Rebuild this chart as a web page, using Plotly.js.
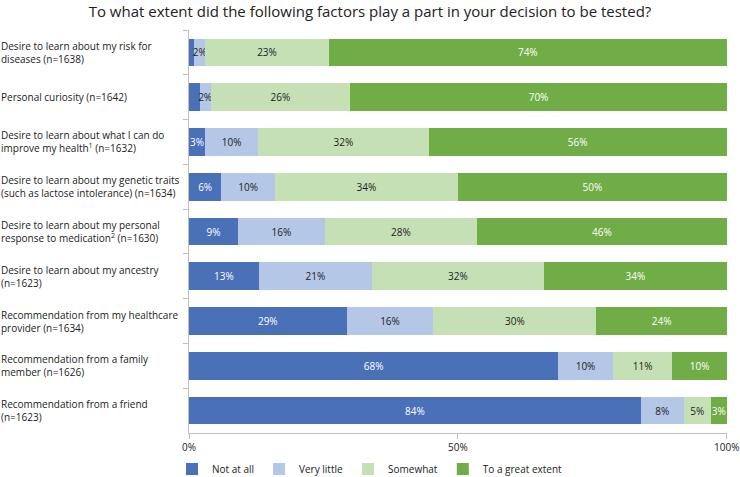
<!DOCTYPE html>
<html>
<head>
<meta charset="utf-8">
<script src="https://cdn.plot.ly/plotly-3.0.1.min.js"></script>
<style>html,body{margin:0;padding:0;background:#fff;}#chart{width:740px;height:477px;}</style>
</head>
<body>
<div id="chart"></div>
<script>
const categories = [
  "Desire to learn about my risk for<br>diseases (n=1638)",
  "Personal curiosity (n=1642)",
  "Desire to learn about what I can do<br>improve my health<sup>1</sup> (n=1632)",
  "Desire to learn about my genetic traits<br>(such as lactose intolerance) (n=1634)",
  "Desire to learn about my personal<br>response to medication<sup>2</sup> (n=1630)",
  "Desire to learn about my ancestry<br>(n=1623)",
  "Recommendation from my healthcare<br>provider (n=1634)",
  "Recommendation from a family<br>member (n=1626)",
  "Recommendation from a friend<br>(n=1623)"
];
const notAtAll   = [1, 2, 3, 6, 9, 13, 29, 68, 84];
const veryLittle = [2, 2, 10, 10, 16, 21, 16, 10, 8];
const somewhat   = [23, 26, 32, 34, 28, 32, 30, 11, 5];
const greatExtent= [74, 70, 56, 50, 46, 34, 24, 10, 3];
const showNotAtAllLabel = [false, false, true, true, true, true, true, true, true];
const seriesNames = ["Not at all", "Very little", "Somewhat", "To a great extent"];
const colors = ["#4a70b8", "#b4c7e7", "#c5e0b4", "#70ad47"];
const textColors = ["#ffffff", "#222222", "#222222", "#ffffff"];

const ids = categories.map((c, i) => "c" + i);
const seriesVals = [notAtAll, veryLittle, somewhat, greatExtent];
const traces = seriesVals.map((vals, s) => ({
  type: "bar",
  orientation: "h",
  name: seriesNames[s],
  y: ids,
  x: vals,
  text: vals.map((v, i) => (s === 0 && !showNotAtAllLabel[i]) ? " " : v + "%"),
  textposition: "inside",
  insidetextanchor: "middle",
  constraintext: "none",
  textfont: {family: "Open Sans, sans-serif", size: 10, color: textColors[s]},
  marker: {color: colors[s], line: {width: 0}},
  hoverinfo: "skip",
  cliponaxis: false
}));

const annotations = categories.map((c, i) => ({
  xref: "paper", yref: "y", x: -0.353, y: ids[i],
  xanchor: "left", yanchor: "middle", align: "left",
  text: c, showarrow: false,
  font: {family: "Open Sans, sans-serif", size: 10, color: "#222"}
}));

const layout = {
  width: 740, height: 477,
  margin: {l: 189, r: 13, t: 30, b: 44},
  paper_bgcolor: "#fff", plot_bgcolor: "#fff",
  barmode: "stack", barnorm: "percent", bargap: 0.38,
  title: {text: "To what extent did the following factors play a part in your decision to be tested?",
          x: 0.5, xref: "container", y: 0.975, yref: "container", yanchor: "middle",
          font: {family: "Open Sans, sans-serif", size: 15, color: "#222"}},
  xaxis: {range: [0, 100.05], tickvals: [0, 50, 100], ticktext: ["0%", "50%", "100%"],
          showgrid: false, zeroline: false, showline: true, linecolor: "#bfbfbf", linewidth: 1,
          ticks: "outside", tickcolor: "#bfbfbf", ticklen: 5,
          tickfont: {family: "Open Sans, sans-serif", size: 10, color: "#222"}, fixedrange: true},
  yaxis: {autorange: "reversed", showticklabels: false, showgrid: false, zeroline: false,
          showline: true, linecolor: "#bfbfbf", linewidth: 1, ticks: "outside", tickson: "boundaries",
          tickcolor: "#bfbfbf", ticklen: 5, fixedrange: true},
  uniformtext: {minsize: 10, mode: "show"},
  showlegend: true,
  legend: {orientation: "h", xref: "container", x: 0.5, xanchor: "center",
           yref: "container", y: 0.017, yanchor: "middle",
           font: {family: "Open Sans, sans-serif", size: 10, color: "#222"},
           itemwidth: 30, traceorder: "normal", tracegroupgap: 0},
  annotations: annotations
};
Plotly.newPlot("chart", traces, layout, {displayModeBar: false, staticPlot: true});
</script>
</body>
</html>
